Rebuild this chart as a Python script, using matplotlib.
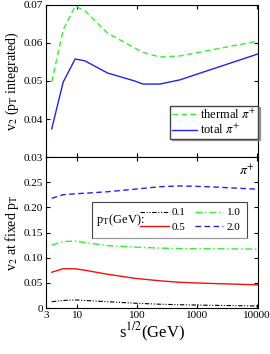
import matplotlib
matplotlib.use("Agg")
import matplotlib.pyplot as plt
import numpy as np
from matplotlib.patches import Rectangle
from matplotlib.ticker import FixedLocator, NullLocator

plt.rcParams['font.family'] = ['Liberation Serif', 'DejaVu Serif']
plt.rcParams['mathtext.fontset'] = 'stix'

# top panel: pT integrated v2
sqrt_s_top = [3.74, 5.8, 9.2, 13.4, 32, 91, 125, 240, 516, 10300]
v2_thermal = [0.0498, 0.0634, 0.0697, 0.0685, 0.0626, 0.0587, 0.0575, 0.0563, 0.0566, 0.0605]
v2_total = [0.0374, 0.0497, 0.0558, 0.0553, 0.0521, 0.0500, 0.0492, 0.0492, 0.0503, 0.0571]

# bottom panel: v2 at fixed pT
sqrt_s_bot = [3.74, 5.8, 9.2, 13.4, 32, 91, 240, 516, 1500, 10300]
v2_pt01 = [0.0125, 0.0150, 0.0160, 0.0150, 0.0125, 0.0095, 0.0075, 0.0065, 0.0055, 0.0040]
v2_pt05 = [0.071, 0.078, 0.078, 0.075, 0.067, 0.059, 0.054, 0.051, 0.049, 0.046]
v2_pt10 = [0.125, 0.132, 0.133, 0.130, 0.124, 0.121, 0.119, 0.118, 0.118, 0.117]
v2_pt20 = [0.218, 0.225, 0.227, 0.228, 0.231, 0.236, 0.241, 0.2425, 0.241, 0.236]

fig = plt.figure(figsize=(2.7, 3.54), dpi=100)
ax1 = fig.add_axes([46 / 270, 1 - 157 / 354, 212 / 270, 152 / 354])
ax2 = fig.add_axes([46 / 270, 1 - 308 / 354, 212 / 270, 151 / 354])

for ax in (ax1, ax2):
    ax.set_xscale('log')
    ax.set_xlim(3, 10400)
    ax.xaxis.set_major_locator(FixedLocator([3, 10, 100, 1000, 10000]))
    ax.xaxis.set_minor_locator(NullLocator())
    ax.tick_params(direction='in', top=True, right=True, labelsize=8, length=3, pad=2)

ax1.plot(sqrt_s_top, v2_thermal, color='#33ee33', ls=(0, (4, 2.5)), lw=1, label=r'thermal $\pi^{+}$')
ax1.plot(sqrt_s_top, v2_total, color='#2222ee', lw=1, label=r'total $\pi^{+}$')
ax1.set_ylim(0.03, 0.07)
ax1.set_yticks([0.03, 0.04, 0.05, 0.06, 0.07])
ax1.set_yticklabels(['0.03', '0.04', '0.05', '0.06', '0.07'])
ax1.set_xticklabels([])
ax1.set_ylabel(r'v$_2$ (p$_\mathrm{T}$ integrated)', fontsize=10, labelpad=2)
leg1 = ax1.legend(loc='lower right', fontsize=9, handlelength=2.0, handletextpad=0.25,
                  borderpad=0.15, labelspacing=0.05, fancybox=False,
                  shadow={'ox': 1.2, 'oy': -1.2, 'color': '#999999', 'alpha': 1},
                  edgecolor='#444444', bbox_to_anchor=(1.0, 0.12), borderaxespad=0)

l01, = ax2.plot(sqrt_s_bot, v2_pt01, color='black', ls=(0, (4, 1.5, 1, 1.5, 1, 1.5)), lw=0.8)
l05, = ax2.plot(sqrt_s_bot, v2_pt05, color='#ee1111', lw=1)
l10, = ax2.plot(sqrt_s_bot, v2_pt10, color='#33ee33', ls=(0, (5, 2, 1, 2)), lw=1)
l20, = ax2.plot(sqrt_s_bot, v2_pt20, color='#2222ee', ls=(0, (4, 2.5)), lw=1)
ax2.set_ylim(0, 0.3)
ax2.set_yticks([0, 0.05, 0.10, 0.15, 0.20, 0.25])
ax2.set_yticklabels(['0', '0.05', '0.10', '0.15', '0.20', '0.25'])
ax2.set_xticklabels(['3', '10', '100', '1000', '10000'])
ax2.set_ylabel(r'v$_2$ at fixed p$_\mathrm{T}$', fontsize=10, labelpad=2)
ax2.set_xlabel(r's$^{1/2}$(GeV)', fontsize=12, labelpad=1)
ax2.text(0.985, 0.955, r'$\pi^{+}$', transform=ax2.transAxes, ha='right', va='top', fontsize=10)

box = Rectangle((0.217, 0.465), 0.73, 0.24, transform=ax2.transAxes, fill=False,
                edgecolor='#444444', lw=0.8)
ax2.add_patch(box)
ax2.add_patch(Rectangle((0.222, 0.455), 0.73, 0.01, transform=ax2.transAxes,
                        color='#999999', lw=0))
ax2.text(0.235, 0.585, r'p$_\mathrm{T}$(GeV):', transform=ax2.transAxes, ha='left', va='center', fontsize=9)
ax2.legend([l01, l05, l10, l20], ['0.1', '0.5', '1.0', '2.0'], ncol=2, frameon=False,
           loc='center', bbox_to_anchor=(0.68, 0.585), fontsize=8, handlelength=2.6,
           handletextpad=0.3, columnspacing=0.8, labelspacing=0.4, borderpad=0)

fig.savefig('out.png', dpi=100)
